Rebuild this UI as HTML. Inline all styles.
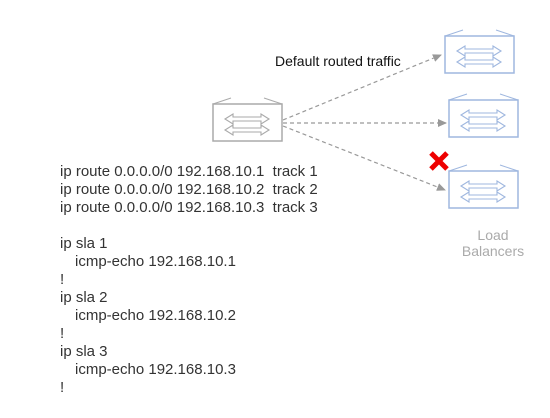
<!DOCTYPE html>
<html><head><style>body{margin:0;background:#fff}svg{display:block}</style></head><body>
<svg width="550" height="418" xmlns="http://www.w3.org/2000/svg" font-family="Liberation Sans, Arial, sans-serif">
<defs>
<g id="dev">
<rect x="0" y="6" width="69" height="37" fill="none" stroke-width="1.5"/>
<path d="M0,6 L18,0 M51,0 L69,6" fill="none" stroke-width="1"/>
<path d="M12,21 L20,16 L20,19 L48,19 L48,16 L56,21 L48,26 L48,23 L20,23 L20,26 Z" fill="none" stroke-width="1.1"/>
<path d="M12,32 L20,27 L20,30 L48,30 L48,27 L56,32 L48,37 L48,34 L20,34 L20,37 Z" fill="none" stroke-width="1.1"/>
</g>
<marker id="ah" markerWidth="9" markerHeight="8" refX="8" refY="4" orient="auto" markerUnits="userSpaceOnUse"><path d="M0,0 L9,4 L0,8 z" fill="#999"/></marker>
</defs>
<g stroke="#aaa"><use href="#dev" x="213" y="98"/></g>
<g stroke="#9fb7df"><use href="#dev" x="445" y="30"/><use href="#dev" x="449" y="94"/><use href="#dev" x="449" y="165"/></g>
<g stroke="#999" stroke-width="1.2" stroke-dasharray="4,3" marker-end="url(#ah)">
<line x1="283" y1="120" x2="441" y2="55"/>
<line x1="283" y1="123" x2="446" y2="123"/>
<line x1="283" y1="126" x2="445" y2="190"/>
</g>
<text x="275" y="66" font-size="14" fill="#111">Default routed traffic</text>
<g stroke="#e00" stroke-width="5"><line x1="431" y1="153" x2="447" y2="169"/><line x1="447" y1="153" x2="431" y2="169"/></g>
<g font-size="14" fill="#aaa" text-anchor="middle"><text x="493" y="240">Load</text><text x="493" y="256">Balancers</text></g>
<g font-size="15" fill="#333">
<text x="60" y="176">ip route 0.0.0.0/0 192.168.10.1&#160; track 1</text>
<text x="60" y="194">ip route 0.0.0.0/0 192.168.10.2&#160; track 2</text>
<text x="60" y="212">ip route 0.0.0.0/0 192.168.10.3&#160; track 3</text>
<text x="60" y="248">ip sla 1</text>
<text x="75" y="266">icmp-echo 192.168.10.1</text>
<text x="60" y="284">!</text>
<text x="60" y="302">ip sla 2</text>
<text x="75" y="320">icmp-echo 192.168.10.2</text>
<text x="60" y="338">!</text>
<text x="60" y="356">ip sla 3</text>
<text x="75" y="374">icmp-echo 192.168.10.3</text>
<text x="60" y="392">!</text>
</g>
</svg>
</body></html>
